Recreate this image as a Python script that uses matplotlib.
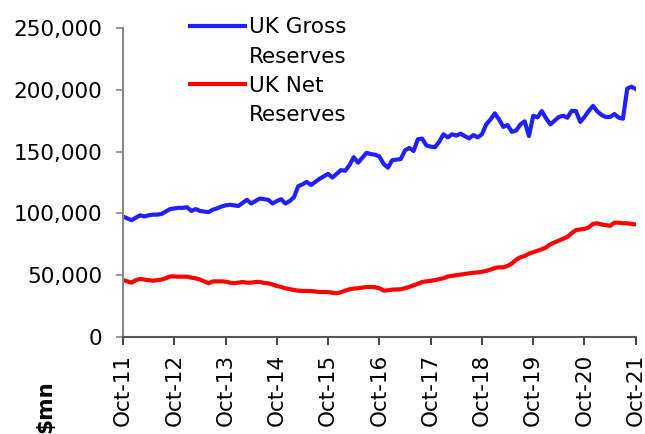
import matplotlib
matplotlib.use("Agg")
import matplotlib.pyplot as plt
from matplotlib.lines import Line2D
from matplotlib.ticker import FuncFormatter

# Monthly data, Oct-11 .. Oct-21 ($mn, thousands)
gross_k = [97.5, 96, 94.5, 96.5, 98.5, 97.5, 98.5, 99, 99, 99.5,
           101.5, 103.5, 104, 104.5, 104.5, 105, 102, 103.5, 102, 101.5,
           101, 103, 104, 105.5, 106.5, 107, 106.5, 106, 108.5, 111,
           108, 110, 112, 111.5, 111, 108, 110, 111.5, 108, 110,
           113, 122, 123.5, 125.5, 123, 125.5, 128, 130, 132, 129,
           132, 135, 134.5, 139, 145.5, 141, 145, 149, 148, 147.5,
           146, 140, 137, 143, 143.5, 144, 151, 153, 150.5, 160,
           160.5, 155, 154, 153.5, 158, 164, 161.5, 164, 163, 164.5,
           162.5, 160.7, 163.4, 161.5, 164, 172, 176, 181, 176, 170,
           171.5, 166, 167, 172, 174.5, 162.6, 179, 177.7, 182.8, 177,
           172, 175, 178, 179, 177.4, 183, 182.8, 174, 178, 183,
           187, 182.5, 179.6, 178, 178, 180.4, 177.5, 176.6, 201, 202.5,
           200.6]
net_k = [46, 45, 44, 46, 47, 46.5, 46, 45.5, 46, 46.5,
         47.5, 49, 49, 48.8, 48.8, 48.8, 48, 47.5, 46.5, 45,
         43.5, 45, 45, 45, 44.8, 44, 43.5, 44, 44.5, 44,
         44, 44.5, 44.5, 43.8, 43.4, 42.5, 41.3, 40.5, 39.4, 38.8,
         38, 37.5, 37.3, 37.2, 37.2, 36.8, 36.4, 36.4, 36.4, 35.8,
         35.4, 36.2, 37.5, 38.6, 39.2, 39.4, 40, 40.4, 40.5, 40.2,
         39.5, 37.5, 37.8, 38.3, 38.5, 38.6, 39.5, 40.5, 41.8, 43,
         44.5, 45, 45.5, 46, 46.8, 47.5, 49, 49.5, 50, 50.5,
         51, 51.5, 52, 52.2, 52.8, 53.5, 54.5, 55.8, 56.4, 56.4,
         57.5, 59.5, 62.5, 64.5, 65.5, 67.5, 68.5, 69.8, 71, 72.5,
         75, 76.5, 78, 79.5, 81, 84, 86.5, 87, 87.5, 88.7,
         91.5, 92, 91, 90.5, 90, 92.5, 92.5, 92, 92, 91.5,
         91]
gross = [v * 1000 for v in gross_k]
net = [v * 1000 for v in net_k]
tick_labels = ["Oct-11", "Oct-12", "Oct-13", "Oct-14", "Oct-15", "Oct-16",
               "Oct-17", "Oct-18", "Oct-19", "Oct-20", "Oct-21"]
yticks = [0, 50000, 100000, 150000, 200000, 250000]

plt.rcParams['font.family'] = ['DejaVu Sans']
FS = 15.5

fig = plt.figure(figsize=(6.45, 4.34), dpi=100)
ax = fig.add_axes([0.1907, 0.2235, 0.795, 0.712])

months = list(range(len(gross)))
l1, = ax.plot(months, gross, color='#2020ff', lw=3, solid_joinstyle='round')
l2, = ax.plot(months, net, color='#ff0000', lw=3, solid_joinstyle='round')

ax.set_xlim(0, len(gross) - 1)
ax.set_ylim(0, 250000)
ax.set_yticks(yticks)
ax.yaxis.set_major_formatter(FuncFormatter(lambda v, p: f"{int(v):,}"))
ax.set_xticks(list(range(0, len(gross), 12)))
ax.set_xticklabels(tick_labels, rotation=90)

for s in ['top', 'right']:
    ax.spines[s].set_visible(False)
ax.spines['left'].set_color('#888888')
ax.spines['left'].set_linewidth(1.5)
ax.spines['bottom'].set_color('#555555')
ax.spines['bottom'].set_linewidth(1.5)
ax.tick_params(axis='y', length=5, width=1.2, color='#888888', labelsize=FS, pad=10)
ax.tick_params(axis='x', length=6, width=1.2, color='#222222', labelsize=FS, pad=6)

blank = Line2D([], [], color='none')
leg = ax.legend([l1, blank, l2, blank],
                ['UK Gross', 'Reserves', 'UK Net', 'Reserves'],
                loc='upper left', bbox_to_anchor=(0.114, 1.062), frameon=False,
                fontsize=FS, handlelength=2.55, handletextpad=0.2,
                labelspacing=0.43, borderaxespad=0)

fig.text(0.07, 0.003, '$mn', rotation=90, fontsize=FS, fontweight='bold',
         ha='center', va='bottom')

fig.savefig('out.png', dpi=100)
